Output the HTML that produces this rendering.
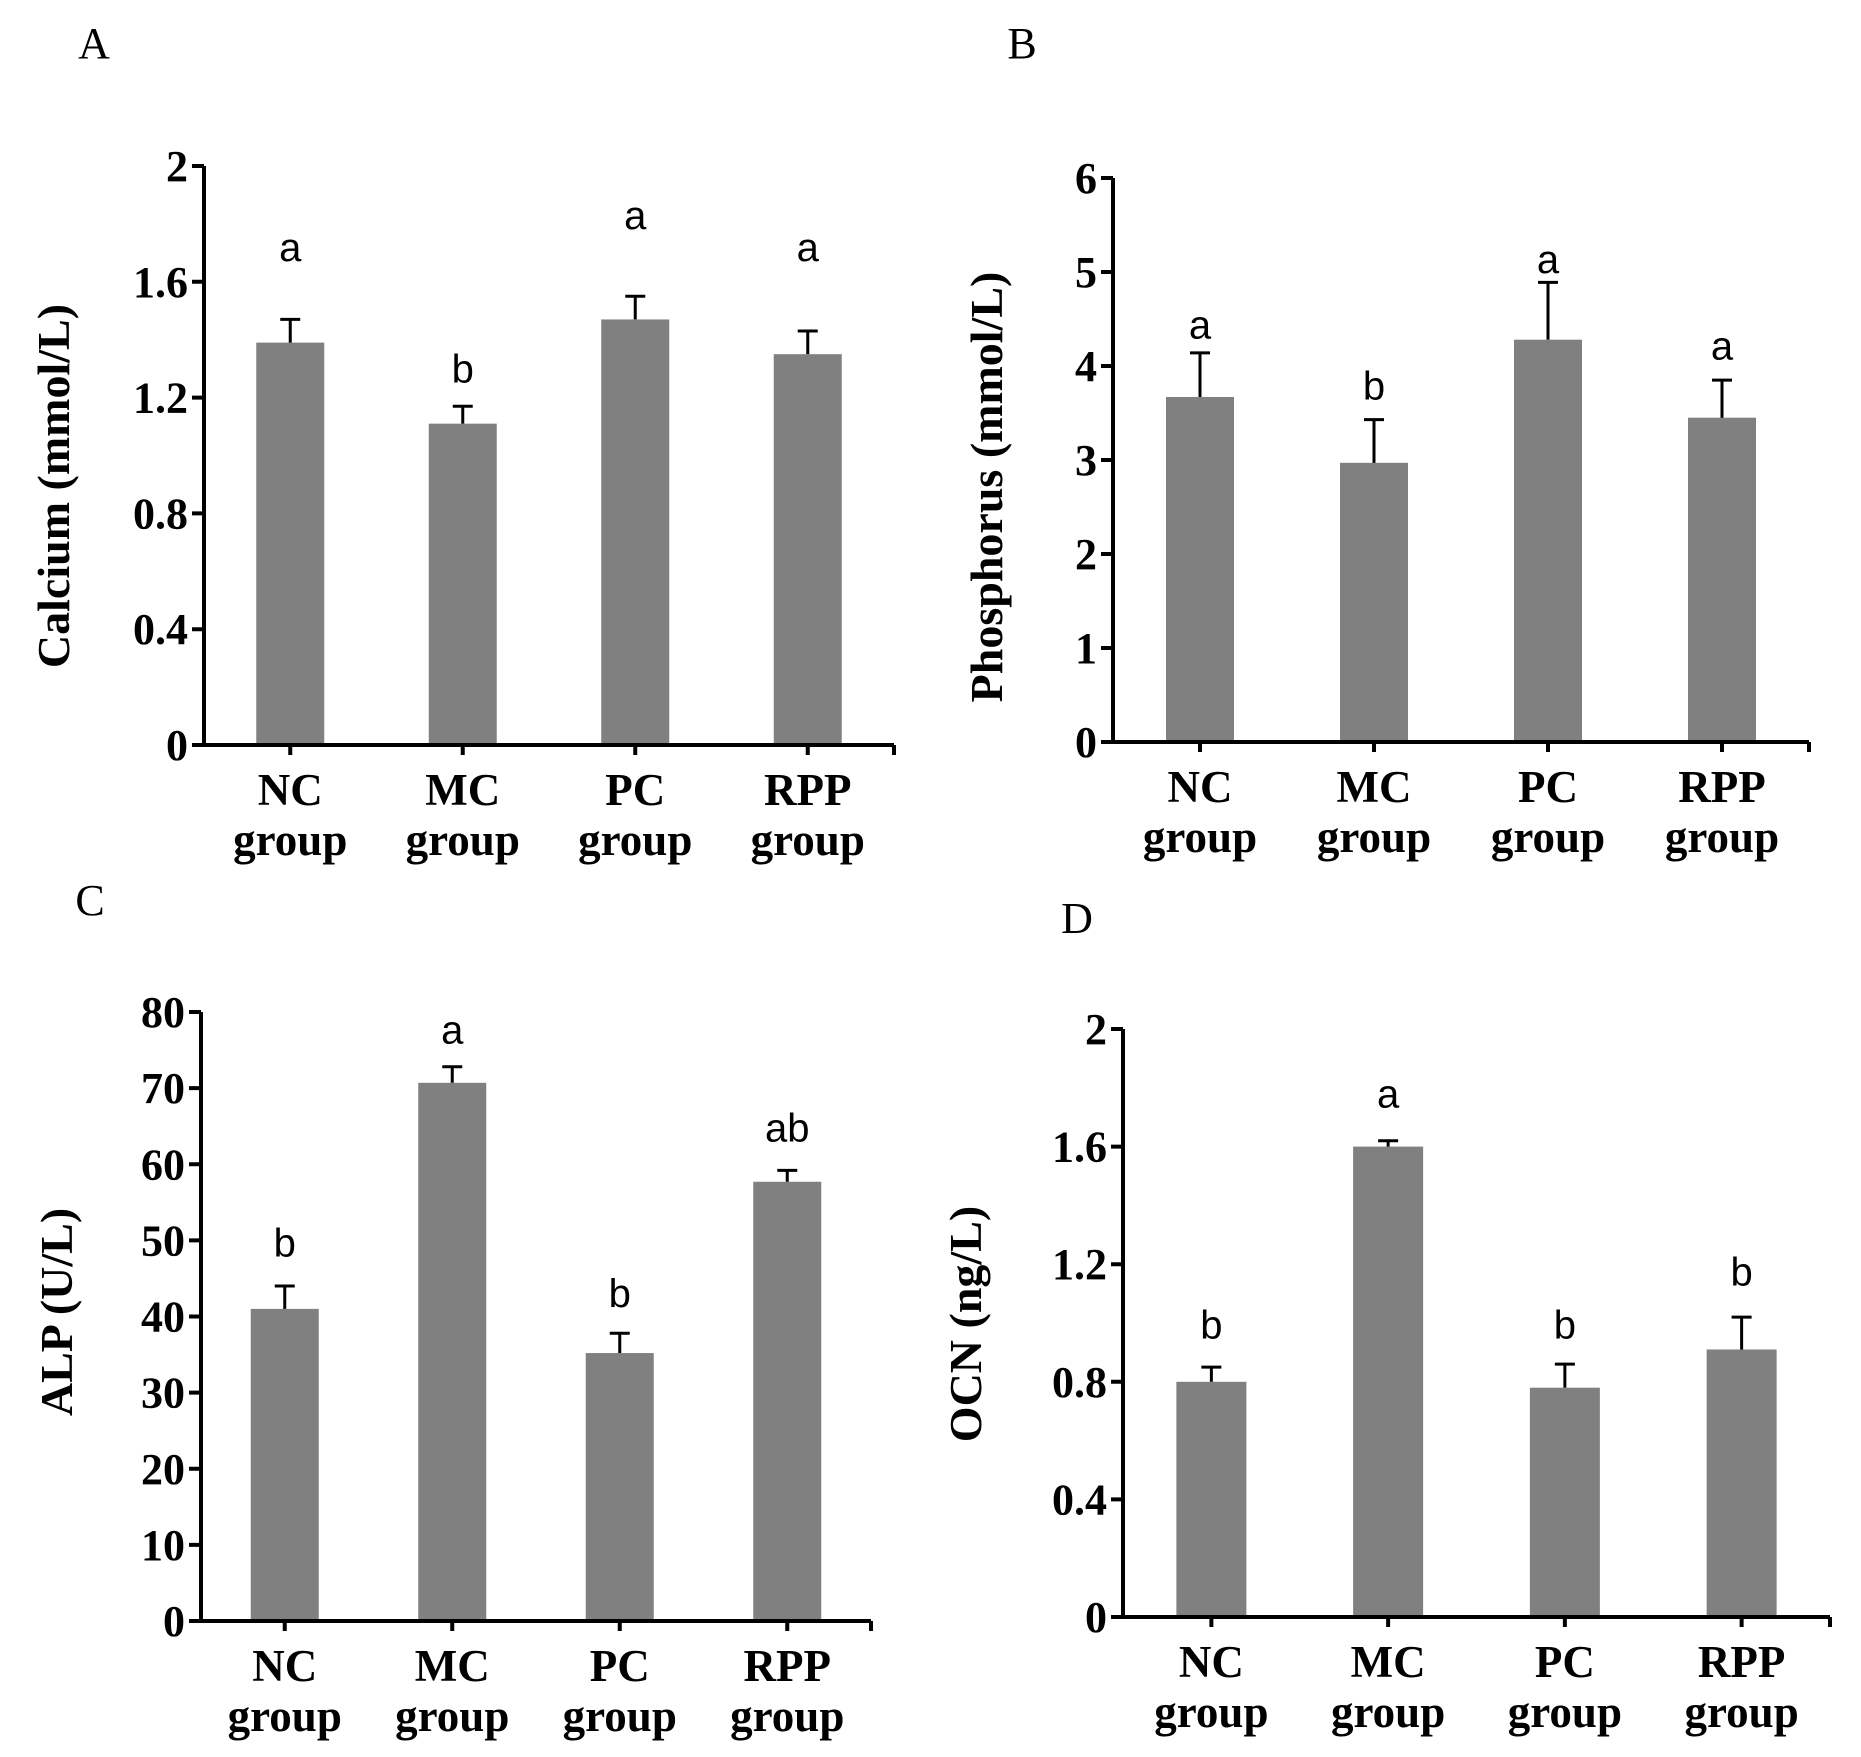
<!DOCTYPE html>
<html><head><meta charset="utf-8">
<style>
html,body{margin:0;padding:0;background:#fff;}
svg{display:block;}
.tick{font-family:"Liberation Serif",serif;font-weight:bold;font-size:44px;fill:#000;}
.cat{font-family:"Liberation Serif",serif;font-weight:bold;font-size:45px;fill:#000;}
.ytitle{font-family:"Liberation Serif",serif;font-weight:bold;font-size:46px;fill:#000;}
.sig{font-family:"Liberation Sans",sans-serif;font-size:40px;fill:#000;}
.plabel{font-family:"Liberation Serif",serif;font-size:44px;fill:#000;}
</style></head>
<body>
<svg id="fig" width="1861" height="1757" viewBox="0 0 1861 1757" xmlns="http://www.w3.org/2000/svg"></svg>
<script>
const categories = ["NC", "MC", "PC", "RPP"];
const calciumValues = [1.39, 1.11, 1.47, 1.35];
const calciumErrTop = [1.47, 1.17, 1.55, 1.43];
const calciumLetters = ["a", "b", "a", "a"];
const calciumLetterAt = [1.72, 1.30, 1.83, 1.72];
const calciumTicks = ["0", "0.4", "0.8", "1.2", "1.6", "2"];
const phosValues = [3.67, 2.97, 4.28, 3.45];
const phosErrTop = [4.14, 3.43, 4.89, 3.85];
const phosLetters = ["a", "b", "a", "a"];
const phosLetterAt = [4.44, 3.79, 5.14, 4.22];
const phosTicks = ["0", "1", "2", "3", "4", "5", "6"];
const alpValues = [41.0, 70.7, 35.2, 57.7];
const alpErrTop = [44.0, 72.8, 37.8, 59.2];
const alpLetters = ["b", "a", "b", "ab"];
const alpLetterAt = [49.7, 77.7, 43.1, 64.8];
const alpTicks = ["0", "10", "20", "30", "40", "50", "60", "70", "80"];
const ocnValues = [0.80, 1.60, 0.78, 0.91];
const ocnErrTop = [0.85, 1.62, 0.86, 1.02];
const ocnLetters = ["b", "a", "b", "b"];
const ocnLetterAt = [0.995, 1.78, 0.995, 1.175];
const ocnTicks = ["0", "0.4", "0.8", "1.2", "1.6", "2"];

const NS = "http://www.w3.org/2000/svg";
const svg = document.getElementById('fig');
function mk(tag, attrs, parent, text){
  const e = document.createElementNS(NS, tag);
  for (const k in attrs) e.setAttribute(k, attrs[k]);
  if (text !== undefined) e.textContent = text;
  parent.appendChild(e);
  return e;
}
const panels = [
  {id:"a", label:"A", lx:94, ly:58, x0:204, x1:894, y0:745, y1:166, max:2, ticks:calciumTicks, vals:calciumValues, err:calciumErrTop, let:calciumLetters, letAt:calciumLetterAt, title:"Calcium (mmol/L)", tx:54, ty:486, bw:68},
  {id:"b", label:"B", lx:1022, ly:58, x0:1113, x1:1809, y0:742, y1:178, max:6, ticks:phosTicks, vals:phosValues, err:phosErrTop, let:phosLetters, letAt:phosLetterAt, title:"Phosphorus (mmol/L)", tx:987, ty:487, bw:68},
  {id:"c", label:"C", lx:90, ly:915, x0:201, x1:871, y0:1621, y1:1012, max:80, ticks:alpTicks, vals:alpValues, err:alpErrTop, let:alpLetters, letAt:alpLetterAt, title:"ALP (U/L)", tx:57, ty:1312, bw:68},
  {id:"d", label:"D", lx:1077, ly:933, x0:1123, x1:1830, y0:1617, y1:1029, max:2, ticks:ocnTicks, vals:ocnValues, err:ocnErrTop, let:ocnLetters, letAt:ocnLetterAt, title:"OCN (ng/L)", tx:966, ty:1324, bw:70}
];
panels.forEach(p => {
  const g = mk('g', {}, svg);
  
  
  const yS = v => p.y0 - (v / p.max) * (p.y0 - p.y1);
  const step = (p.x1 - p.x0) / categories.length;
  const xC = i => p.x0 + step * (i + 0.5);
  const pl = mk('text', {x:p.lx, y:p.ly, class:'plabel', 'text-anchor':'middle'}, g, p.label);
  
  
  p.vals.forEach((v, i) => {
    const r = mk('rect', {x:xC(i) - p.bw/2, y:yS(v), width:p.bw, height:p.y0 - yS(v), fill:'#808080'}, g);
    
    
    const eb = mk('path', {d:`M${xC(i)} ${yS(v)} V${yS(p.err[i])} M${xC(i)-10} ${yS(p.err[i])} H${xC(i)+10}`, stroke:'#000', 'stroke-width':3, fill:'none'}, g);
    
    
    const s = mk('text', {x:xC(i), y:yS(p.letAt[i]) + 14, class:'sig', 'text-anchor':'middle'}, g, p.let[i]);
    
    
    const c1 = mk('text', {x:xC(i), y:p.y0 + 60, class:'cat', 'text-anchor':'middle'}, g, categories[i]);
    
    
    const c2 = mk('text', {x:xC(i), y:p.y0 + 110, class:'cat', 'text-anchor':'middle'}, g, 'group');
    
    
  });
  let d = `M${p.x0} ${p.y1} V${p.y0} H${p.x1}`;
  p.ticks.forEach((t, k) => {
    const v = p.max * k / (p.ticks.length - 1);
    d += ` M${p.x0-12} ${yS(v)} H${p.x0}`;
    const tl = mk('text', {x:p.x0 - 16, y:yS(v) + 15, class:'tick', 'text-anchor':'end'}, g, t);
    
    
  });
  for (let i = 0; i <= categories.length; i++) {
    const x = i < categories.length ? xC(i) : p.x1;
    d += ` M${x} ${p.y0} V${p.y0 + 10}`;
  }
  const ax = mk('path', {d:d, stroke:'#000', 'stroke-width':4, fill:'none'}, g);
  
  
  const yt = mk('text', {x:0, y:0, class:'ytitle', 'text-anchor':'middle', transform:`translate(${p.tx + 15},${p.ty}) rotate(-90)`}, g, p.title);
  
  
});
</script>
</body></html>
